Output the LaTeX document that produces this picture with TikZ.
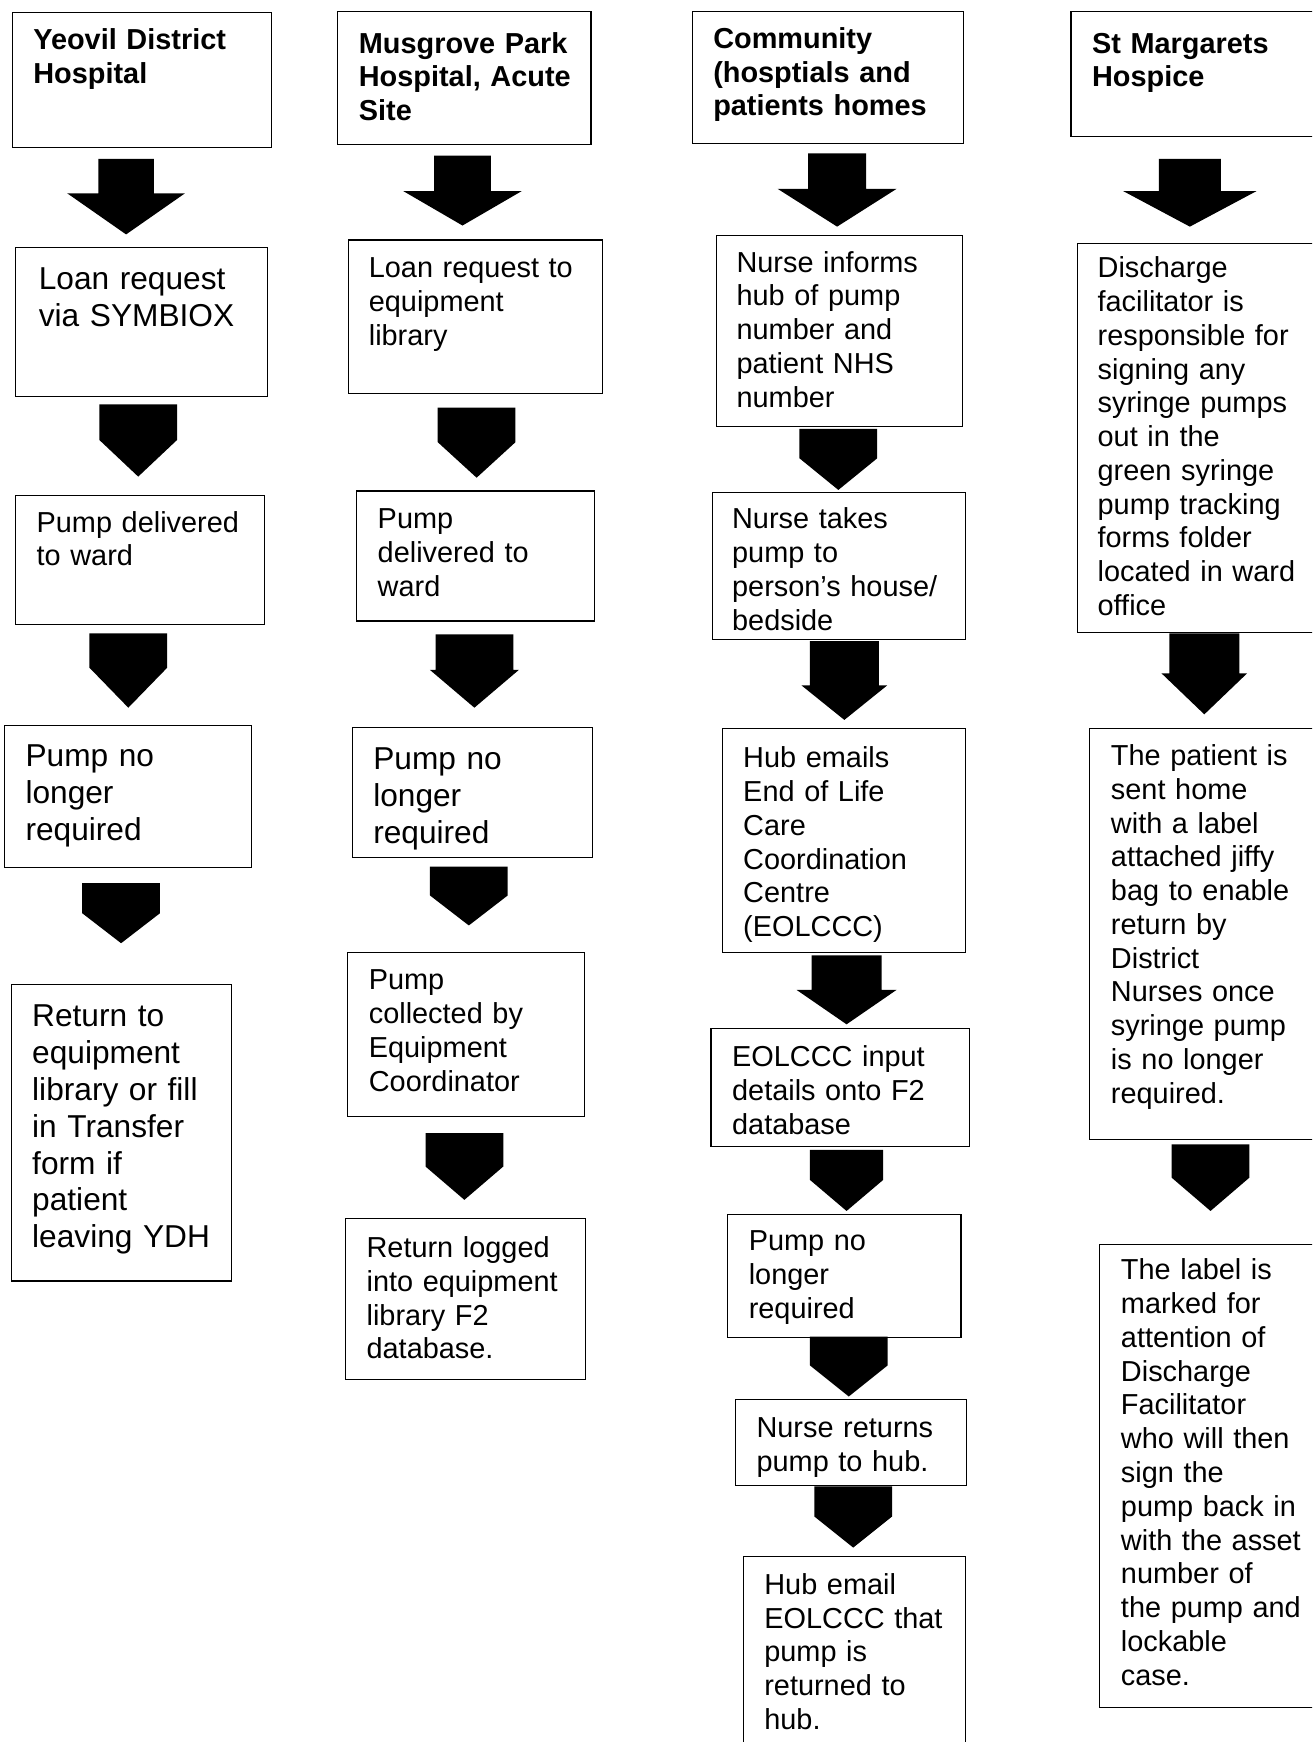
\documentclass[tikz,border=0pt]{standalone}
\usepackage{fontspec}
\setmainfont{Liberation Sans}
\usepackage{tikz}
\usetikzlibrary{positioning}

% block arrow: centre x, top, start of head, tip, half stem, half head
\newcommand{\blockarrow}[6]{%
    \fill (#1-#5,#2) -- (#1+#5,#2) -- (#1+#5,#3) -- (#1+#6,#3)
        -- (#1,#4) -- (#1-#6,#3) -- (#1-#5,#3) -- cycle;}

\begin{document}
\begin{tikzpicture}[
    % GLOBAL CFG
    x=1pt, y=-1pt,
    % Styles
    cell/.style={% For every box
        rectangle,
        draw,
        line width=1pt,
        anchor=north west,
        inner ysep=0pt,
        outer sep=0pt,
        align=left,
        },
    hdr/.style={% For the site names on top
        cell,
        font=\fontsize{26}{30.2}\selectfont\bfseries,
        },
    txt/.style={% For the normal steps
        cell,
        font=\fontsize{26}{30.4}\selectfont,
        },
    big/.style={% For the steps in larger type
        cell,
        font=\fontsize{28.5}{33.2}\selectfont,
        },
    ]

    \useasboundingbox (0,0) rectangle (1181,1568);
    \clip (0,0) rectangle (1181,1568);

    % Yeovil column named yeo#
    \node [hdr, inner xsep=19pt, text width=195pt, text height=34pt, text depth=88pt] (yeo0) at (11,11) {Yeovil District\\Hospital};
    \node [big, inner xsep=21pt, text width=185pt, text height=38pt, text depth=96pt] (yeo1) at (14,223) {Loan request\\via SYMBIOX};
    \node [txt, inner xsep=19pt, text width=186pt, text height=33pt, text depth=83pt] (yeo2) at (14,446) {Pump delivered\\to ward};
    \node [big, inner xsep=19pt, text width=184pt, text height=37pt, text depth=91pt] (yeo3) at (4,653) {Pump no\\longer\\required};
    \node [big, inner xsep=19pt, text width=160pt, text height=38pt, text depth=229pt] (yeo4) at (10,886) {Return to\\equipment\\library or fill\\in Transfer\\form if\\patient\\leaving~YDH};

    % Musgrove column named mus#
    \node [hdr, inner xsep=19pt, text width=190pt, text height=38pt, text depth=82pt] (mus0) at (304,10) {Musgrove Park\\Hospital,~Acute\\Site};
    \node [txt, inner xsep=18pt, text width=192pt, text height=34pt, text depth=104pt] (mus1) at (314,216) {Loan request to\\equipment\\library};
    \node [txt, inner xsep=19pt, text width=176pt, text height=34pt, text depth=83pt] (mus2) at (321,442) {Pump\\delivered to\\ward};
    \node [big, inner xsep=19pt, text width=178pt, text height=38pt, text depth=79pt] (mus3) at (317,655) {Pump no\\longer\\required};
    \node [txt, inner xsep=19pt, text width=175pt, text height=34pt, text depth=114pt] (mus4) at (313,857) {Pump\\collected by\\Equipment\\Coordinator};
    \node [txt, inner xsep=19pt, text width=178pt, text height=35pt, text depth=110pt] (mus5) at (311,1097) {Return logged\\into equipment\\library F2\\database.};

    % Community column named com#
    \node [hdr, inner xsep=19pt, text width=206pt, text height=34pt, text depth=85pt] (com0) at (623,10) {Community\\(hosptials and\\patients homes};
    \node [txt, inner xsep=18pt, text width=185pt, text height=33pt, text depth=139pt] (com1) at (645,212) {Nurse informs\\hub of pump\\number and\\patient NHS\\number};
    \node [txt, inner xsep=18pt, text width=192pt, text height=33pt, text depth=100pt] (com2) at (641,443) {Nurse takes\\pump to\\person’s house/\\bedside};
    \node [txt, inner xsep=19pt, text width=181pt, text height=35pt, text depth=166pt] (com3) at (650,656) {Hub emails\\End of Life\\Care\\Coordination\\Centre\\(EOLCCC)};
    \node [txt, inner xsep=19pt, text width=195pt, text height=34pt, text depth=72pt] (com4) at (640,926) {EOLCCC input\\details onto F2\\database};
    \node [txt, inner xsep=19pt, text width=172pt, text height=33pt, text depth=78pt] (com5) at (655,1093) {Pump no\\longer\\required};
    \node [txt, inner xsep=19pt, text width=170pt, text height=34pt, text depth=43pt] (com6) at (662,1260) {Nurse returns\\pump to hub.};
    \node [txt, inner xsep=19pt, text width=162pt, text height=34pt, text depth=166pt] (com7) at (669,1401) {Hub email\\EOLCCC~that\\pump is\\returned to\\hub.};

    % St Margarets column named stm#
    \node [hdr, inner xsep=19pt, text width=202pt, text height=38pt, text depth=75pt] (stm0) at (964,10) {St Margarets\\Hospice};
    \node [txt, inner xsep=18pt, text width=204pt, text height=31pt, text depth=319pt] (stm1) at (970,219) {Discharge\\facilitator is\\responsible for\\signing any\\syringe pumps\\out in the\\green syringe\\pump tracking\\forms folder\\located in ward\\office};
    \node [txt, inner xsep=19pt, text width=192pt, text height=33pt, text depth=337pt] (stm2) at (981,656) {The patient is\\sent home\\with a label\\attached jiffy\\bag to enable\\return by\\District\\Nurses once\\syringe pump\\is no longer\\required.};
    \node [txt, inner xsep=19pt, text width=192pt, text height=32pt, text depth=385pt] (stm3) at (990,1120) {The label is\\marked for\\attention of\\Discharge\\Facilitator\\who will then\\sign the\\pump back in\\with the asset\\number of\\the pump and\\lockable\\case.};

    % Arrows between the boxes
    \blockarrow{113.5}{143}{174}{211}{25}{53}
    \blockarrow{124.4}{364}{396}{429}{35}{35}
    \blockarrow{115.5}{570}{601}{637}{35}{35}
    \blockarrow{109}{795}{822}{849}{35}{35}

    \blockarrow{416.3}{140}{172}{203}{25.5}{53.3}
    \blockarrow{429}{367}{398}{430}{35}{35}
    \blockarrow{427}{571}{603}{637}{35}{40}
    \blockarrow{422}{780}{806}{833}{35}{35}
    \blockarrow{418}{1020}{1050}{1080}{35}{35}

    \blockarrow{753.5}{138}{170}{204}{26}{53.5}
    \blockarrow{754.6}{386}{412.5}{441}{35}{35}
    \blockarrow{760}{577}{617}{648}{31}{38.5}
    \blockarrow{762}{860}{891}{922}{31.5}{45}
    \blockarrow{762}{1035}{1062}{1090}{33}{33}
    \blockarrow{764}{1203}{1229}{1257}{35}{35}
    \blockarrow{768}{1338}{1365}{1393}{35}{35}

    \blockarrow{1071}{143}{172}{204}{28}{60}
    \blockarrow{1084}{570}{606}{643}{31.5}{38.6}
    \blockarrow{1089.6}{1030}{1060}{1090}{35}{35}

\end{tikzpicture}
\end{document}
